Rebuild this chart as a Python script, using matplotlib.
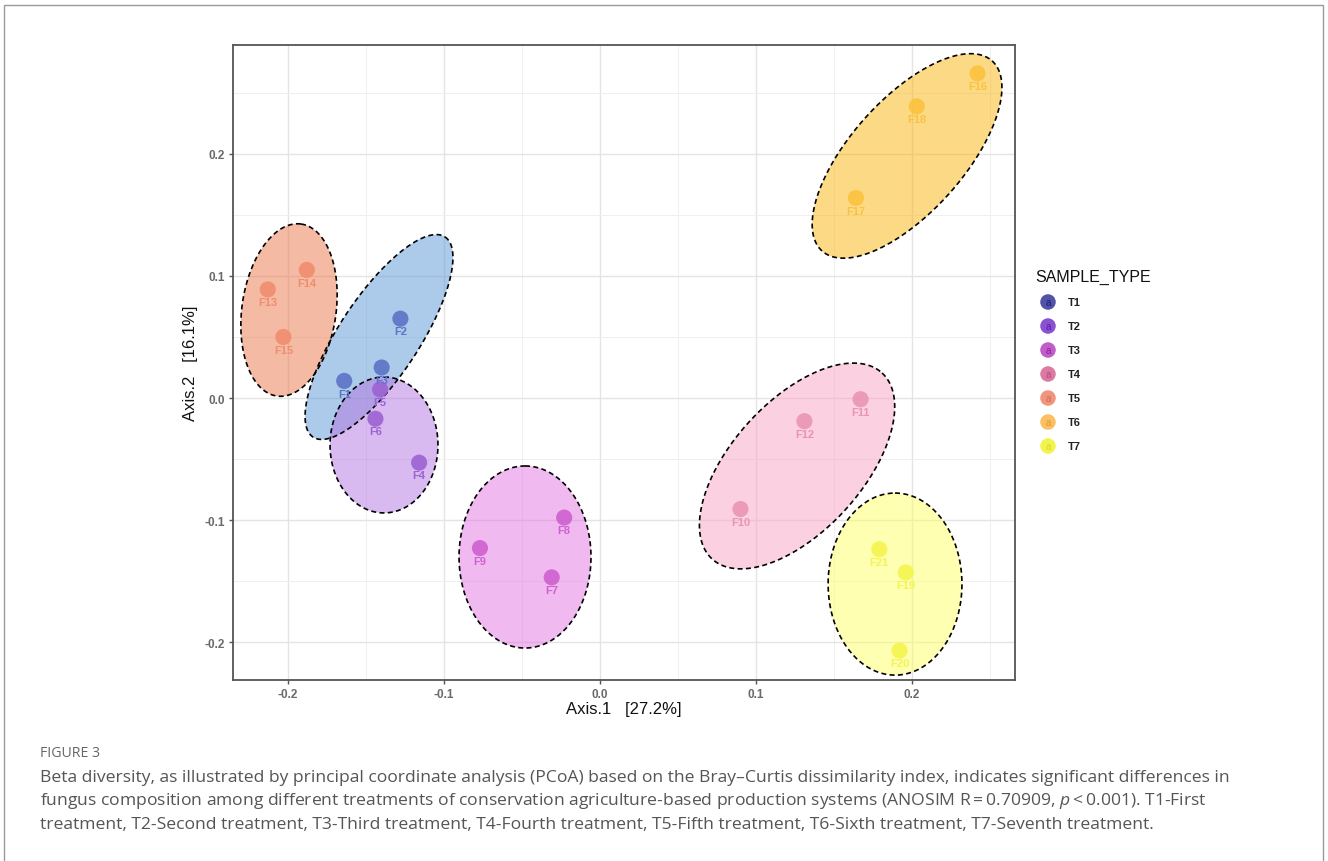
import matplotlib
matplotlib.use("Agg")
import matplotlib.pyplot as plt
import numpy as np
from matplotlib.patches import Polygon, Rectangle

# ---------------- data ----------------
samples = ['F1', 'F2', 'F3', 'F4', 'F5', 'F6', 'F7', 'F8', 'F9', 'F10', 'F11',
           'F12', 'F13', 'F14', 'F15', 'F16', 'F17', 'F18', 'F19', 'F20', 'F21']
groups = ['T1', 'T1', 'T1', 'T2', 'T2', 'T2', 'T3', 'T3', 'T3', 'T4', 'T4',
          'T4', 'T5', 'T5', 'T5', 'T6', 'T6', 'T6', 'T7', 'T7', 'T7']
axis1 = [-0.164, -0.128, -0.140, -0.116, -0.141, -0.144, -0.031, -0.023, -0.077, 0.090, 0.167,
         0.131, -0.213, -0.188, -0.203, 0.242, 0.164, 0.203, 0.196, 0.192, 0.179]
axis2 = [0.014, 0.065, 0.025, -0.053, 0.007, -0.017, -0.147, -0.098, -0.123, -0.091, -0.001,
         -0.019, 0.089, 0.105, 0.050, 0.266, 0.164, 0.239, -0.143, -0.207, -0.124]

treatments = ['T1', 'T2', 'T3', 'T4', 'T5', 'T6', 'T7']
# ellipse centre and conjugate semi-diameters (data units)
ell_cx = [-0.1417, -0.1385, -0.0481, 0.1263, -0.1994, 0.1968, 0.1891]
ell_cy = [0.0500, -0.0385, -0.1303, -0.0557, 0.0721, 0.1984, -0.1525]
ell_ux = [0.0423, 0.0, 0.0, 0.0545, 0.0077, 0.0545, 0.0]
ell_uy = [0.0820, 0.0557, 0.0746, 0.0762, 0.0705, 0.0779, 0.0746]
ell_vx = [0.0214, 0.0346, 0.0423, 0.0308, 0.0299, 0.0270, 0.0429]
ell_vy = [-0.0180, 0.0, 0.0, -0.0361, -0.0053, -0.0309, 0.0]

x_ticks = [-0.2, -0.1, 0.0, 0.1, 0.2]
y_ticks = [-0.2, -0.1, 0.0, 0.1, 0.2]
x_minor = [-0.15, -0.05, 0.05, 0.15, 0.25]
y_minor = [-0.15, -0.05, 0.05, 0.15, 0.25]
x_label = "Axis.1   [27.2%]"
y_label = "Axis.2   [16.1%]"
legend_title = "SAMPLE_TYPE"
fig_label = "FIGURE 3"
caption_lines = [
    "Beta diversity, as illustrated by principal coordinate analysis (PCoA) based on the Bray\u2013Curtis dissimilarity index, indicates significant differences in",
    "fungus composition among different treatments of conservation agriculture-based production systems (ANOSIM R\u2009=\u20090.70909, $p$\u2009<\u20090.001). T1-First",
    "treatment, T2-Second treatment, T3-Third treatment, T4-Fourth treatment, T5-Fifth treatment, T6-Sixth treatment, T7-Seventh treatment.",
]

# ---------------- styles ----------------
point_colors = {'T1': '#5b74c6', 'T2': '#9c62d2', 'T3': '#cf60cf', 'T4': '#ea94b4',
                'T5': '#ef8d6d', 'T6': '#fbc23e', 'T7': '#f4f44e'}
fill_colors = {'T1': '#5a96d4', 'T2': '#b476e2', 'T3': '#e275e2', 'T4': '#f9a3c3',
               'T5': '#ea7648', 'T6': '#fbb40c', 'T7': '#ffff66'}
legend_colors = {'T1': '#3f3f9e', 'T2': '#7d3fcb', 'T3': '#b84cc2', 'T4': '#d96c9a',
                 'T5': '#f08b70', 'T6': '#fbb853', 'T7': '#f2f23c'}
legend_text_colors = {'T1': '#1a1a7a', 'T2': '#5a1aa8', 'T3': '#8e1e98', 'T4': '#b84a78',
                      'T5': '#d06a50', 'T6': '#e09830', 'T7': '#d8d820'}

plt.rcParams['mathtext.fontset'] = 'custom'
plt.rcParams['mathtext.it'] = 'Open Sans:italic'
plt.rcParams['mathtext.rm'] = 'Open Sans'

W, H = 1328, 862
fig = plt.figure(figsize=(W / 100, H / 100), dpi=100)
fig.patch.set_facecolor('white')

# outer frame
fig.add_artist(Rectangle((4 / W, -0.05), (1323 - 4) / W, 1 - 6 / H + 0.05,
                         transform=fig.transFigure, fill=False,
                         edgecolor='#9a9a9a', linewidth=1.0))

ax = fig.add_axes([233 / W, 1 - 681 / H, (1015 - 233) / W, (681 - 46) / H])
ax.set_facecolor('white')
for s in ax.spines.values():
    s.set_color('#555555')
    s.set_linewidth(1.3)

ax.set_xticks(x_ticks)
ax.set_yticks(y_ticks)
ax.set_xticks(x_minor, minor=True)
ax.set_yticks(y_minor, minor=True)
ax.set_xticklabels([f"{v:.1f}" for v in x_ticks])
ax.set_yticklabels([f"{v:.1f}" for v in y_ticks])
ax.tick_params(axis='both', which='major', length=3, width=1, color='#555555',
               labelsize=8.5, labelcolor='#6a6a6a', pad=3)
ax.tick_params(axis='both', which='minor', length=0)
for lab in ax.get_xticklabels() + ax.get_yticklabels():
    lab.set_fontweight('bold')
    lab.set_family(['Liberation Sans', 'DejaVu Sans'])
ax.grid(True, which='major', color='#e4e4e4', linewidth=1.0)
ax.grid(True, which='minor', color='#efefef', linewidth=0.7)
ax.set_axisbelow(True)

# ellipses
t = np.linspace(0, 2 * np.pi, 300)
for i, tr in enumerate(treatments):
    px = ell_cx[i] + ell_ux[i] * np.cos(t) + ell_vx[i] * np.sin(t)
    py = ell_cy[i] + ell_uy[i] * np.cos(t) + ell_vy[i] * np.sin(t)
    poly = Polygon(np.column_stack([px, py]), closed=True,
                   facecolor=fill_colors[tr], alpha=0.5, edgecolor='none', zorder=2)
    ax.add_patch(poly)
    ax.plot(np.append(px, px[0]), np.append(py, py[0]), color='black',
            linestyle=(0, (3, 2)), linewidth=1.2, zorder=3)

# points and labels
for name, g, x, y in zip(samples, groups, axis1, axis2):
    ax.scatter([x], [y], s=135, color=point_colors[g], alpha=0.9,
               edgecolors='none', zorder=4)
    ax.annotate(name, (x, y), xytext=(0, -5.5), textcoords='offset points',
                ha='center', va='top', fontsize=8, fontweight='bold',
                color=point_colors[g], family=['Liberation Sans', 'DejaVu Sans'], zorder=5)

# limits set last so ticks do not expand them
ax.set_xlim(-0.2353, 0.2660)
ax.set_ylim(-0.2311, 0.2893)

# axis labels
fig.text(624 / W, 1 - 710 / H, x_label, ha='center', va='center', fontsize=12,
         family=['Liberation Sans Narrow', 'Liberation Sans', 'DejaVu Sans'], color='#111111')
fig.text(190 / W, 1 - 363 / H, y_label, ha='center', va='center', fontsize=12,
         rotation=90, family=['Liberation Sans Narrow', 'Liberation Sans', 'DejaVu Sans'],
         color='#111111')

# legend
fig.text(1035 / W, 1 - 277 / H, legend_title, ha='left', va='center', fontsize=11.5,
         family=['Liberation Sans Narrow', 'Liberation Sans', 'DejaVu Sans'], color='#111111')
lax = fig.add_axes([0, 0, 1, 1], facecolor='none')
lax.set_xlim(0, W)
lax.set_ylim(H, 0)
lax.axis('off')
for k, tr in enumerate(treatments):
    yy = 303 + 24 * k
    lax.scatter([1048], [yy], s=125, color=legend_colors[tr], edgecolors='none', alpha=0.9)
    lax.text(1048, yy + 0.5, 'a', ha='center', va='center', fontsize=7,
             color=legend_text_colors[tr], family=['Liberation Sans', 'DejaVu Sans'])
    lax.text(1068, yy, tr, ha='left', va='center', fontsize=8, fontweight='bold',
             color='#222222', family=['Liberation Sans', 'DejaVu Sans'])

# caption
lax.text(40, 754, fig_label, ha='left', va='center', fontsize=10.2,
         color='#666666', family=['Open Sans', 'DejaVu Sans'])
for k, line in enumerate(caption_lines):
    lax.text(40, 778 + 23.5 * k, line, ha='left', va='center', fontsize=12.6,
             color='#555555', family=['Open Sans', 'DejaVu Sans'])

fig.savefig('out.png', dpi=100, facecolor='white')
